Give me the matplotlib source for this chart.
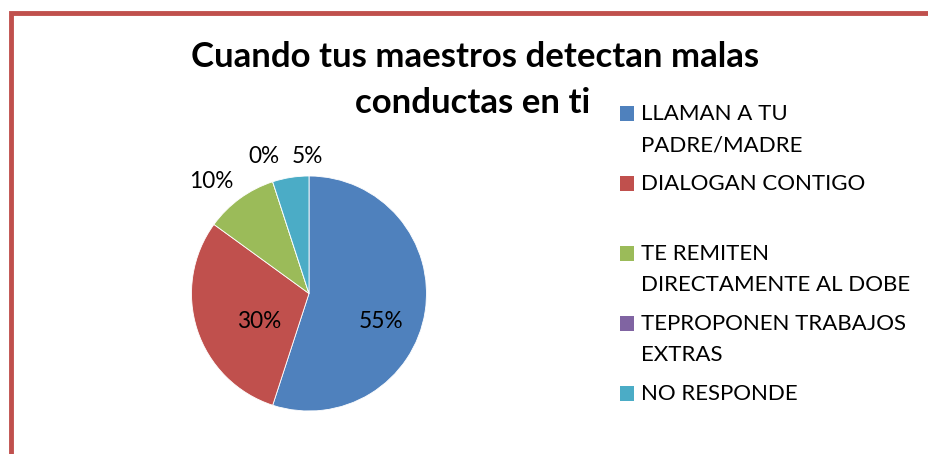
import matplotlib.pyplot as plt
from matplotlib.patches import Rectangle

# data
categories = ["LLAMAN A TU\nPADRE/MADRE", "DIALOGAN CONTIGO", "TE REMITEN\nDIRECTAMENTE AL DOBE",
              "TEPROPONEN TRABAJOS\nEXTRAS", "NO RESPONDE"]
values = [55, 30, 10, 0, 5]
pct_labels = ["55%", "30%", "10%", "0%", "5%"]
colors = ["#4F81BD", "#C0504D", "#9BBB59", "#8064A2", "#4BACC6"]

# label positions relative to the pie (radius = 1)
label_xy = [(0.61, -0.24), (-0.42, -0.24), (-0.83, 0.95), (-0.38, 1.17), (-0.01, 1.17)]

W, H = 929, 454
plt.rcParams['font.family'] = ['Lato', 'DejaVu Sans']
fig = plt.figure(figsize=(W / 100, H / 100), dpi=100)

# pie axes, centre (309, 293.5) px, radius 117.5 px
cx, cy, r = 309, 293.5, 117.5
ax = fig.add_axes([(cx - r) / W, (H - cy - r) / H, 2 * r / W, 2 * r / H])
wedges, _ = ax.pie(values, colors=colors, startangle=90, counterclock=False,
                   wedgeprops=dict(edgecolor='white', linewidth=0.6))
ax.set_xlim(-1, 1)
ax.set_ylim(-1, 1)
ax.set_aspect('equal')
ax.axis('off')
for (x, y), lab in zip(label_xy, pct_labels):
    ax.text(x, y, lab, ha='center', va='center', fontsize=16.3, color='black')

# title
fig.text(475 / W, 1 - 57 / H, "Cuando tus maestros detectan malas", ha='center', va='center',
         fontsize=25, fontweight='bold')
fig.text(473 / W, 1 - 103 / H, "conductas en ti", ha='center', va='center',
         fontsize=25, fontweight='bold')

# legend drawn by hand (markers aligned with first text line, like Excel)
for i, (cat, col) in enumerate(zip(categories, colors)):
    y0 = 113.7 + 70 * i
    fig.patches.append(Rectangle((619.5 / W, 1 - (y0 + 7.2) / H), 14.5 / W, 14.5 / H,
                                 transform=fig.transFigure, facecolor=col, edgecolor='none'))
    for j, line in enumerate(cat.split("\n")):
        fig.text(641 / W, 1 - (y0 + 31.5 * j) / H, line, ha='left', va='center',
                 fontsize=16, color='black')

# red frame (left and top edges visible)
fig.patches.append(Rectangle((11.5 / W, -0.1), 1.2, 1 - 12.5 / H + 0.1,
                             transform=fig.transFigure, fill=False,
                             edgecolor='#C0504D', linewidth=3.5))

fig.savefig("out.png", dpi=100, facecolor='white')
